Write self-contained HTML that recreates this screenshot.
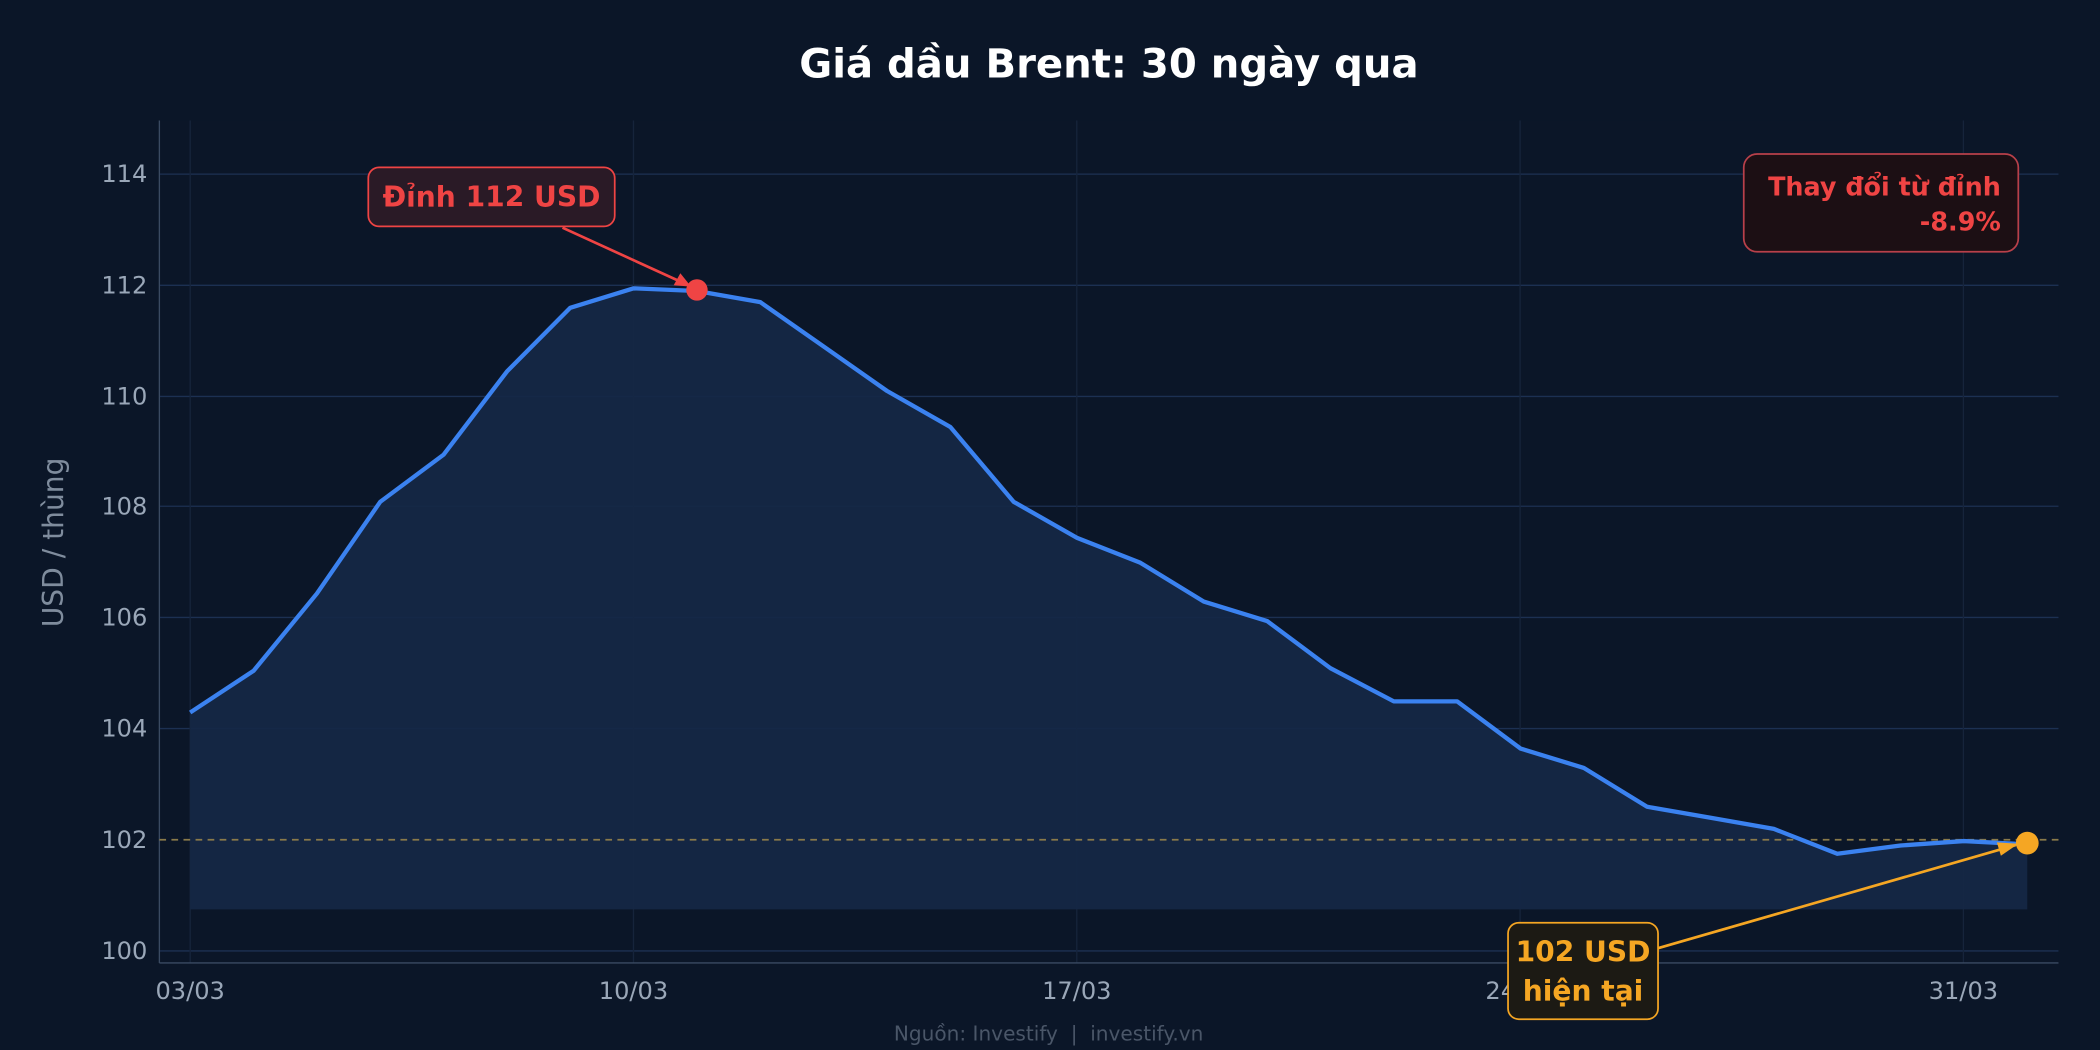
<!DOCTYPE html>
<html><head><meta charset="utf-8"><style>
html,body{margin:0;padding:0;background:#0b1628;}
svg{display:block;font-family:"DejaVu Sans","Liberation Sans",sans-serif;}
</style></head><body>
<svg width="2100" height="1050" viewBox="0 0 1568 784" xmlns="http://www.w3.org/2000/svg">
<rect width="1568" height="784" fill="#0b1628"/>
<rect x="119" y="90" width="1418" height="629" fill="#0b1628"/>
<g stroke="#1c3052" stroke-width="1">
<line x1="119" y1="130" x2="1537" y2="130"/><line x1="119" y1="213" x2="1537" y2="213"/>
<line x1="119" y1="296" x2="1537" y2="296"/><line x1="119" y1="378" x2="1537" y2="378"/>
<line x1="119" y1="461" x2="1537" y2="461"/><line x1="119" y1="544" x2="1537" y2="544"/>
<line x1="119" y1="710" x2="1537" y2="710"/>
</g>
<g stroke="#16243b" stroke-width="1">
<line x1="142" y1="90" x2="142" y2="719"/><line x1="473" y1="90" x2="473" y2="719"/>
<line x1="804" y1="90" x2="804" y2="719"/><line x1="1135" y1="90" x2="1135" y2="719"/>
<line x1="1466" y1="90" x2="1466" y2="719"/>
</g>
<g stroke="#3a4a62" stroke-width="1"><line x1="119" y1="90" x2="119" y2="719"/><line x1="119" y1="719" x2="1537" y2="719"/></g>
<polygon fill="#152846" fill-opacity="0.9" points="142,679 142,532 189.3,500.9 236.6,443.2 283.9,374.7 331.2,339.5 378.5,277.4 425.8,229.8 473.1,215.3 520.4,217.3 567.7,225.6 615,258.7 662.3,291.9 709.6,318.8 756.9,374.7 804.2,401.6 851.5,420.2 898.8,449.2 946.1,463.7 993.4,498.9 1040.7,523.7 1088,523.7 1135.3,558.9 1182.6,573.4 1229.9,602.4 1277.2,610.6 1324.5,618.9 1371.8,637.5 1419.1,631.3 1466.4,628 1513.7,630.5 1513.7,679"/>
<line x1="119" y1="627" x2="1537" y2="627" stroke="#8a7a4a" stroke-width="1.3" stroke-dasharray="5,4"/>
<polyline fill="none" stroke="#3b82f0" stroke-width="3.2" stroke-linejoin="round" points="142,532 189.3,500.9 236.6,443.2 283.9,374.7 331.2,339.5 378.5,277.4 425.8,229.8 473.1,215.3 520.4,217.3 567.7,225.6 615,258.7 662.3,291.9 709.6,318.8 756.9,374.7 804.2,401.6 851.5,420.2 898.8,449.2 946.1,463.7 993.4,498.9 1040.7,523.7 1088,523.7 1135.3,558.9 1182.6,573.4 1229.9,602.4 1277.2,610.6 1324.5,618.9 1371.8,637.5 1419.1,631.3 1466.4,628 1513.7,630.5"/>
<circle cx="520.4" cy="216.5" r="8" fill="#ef4444"/>
<circle cx="1513.7" cy="629.5" r="8.5" fill="#f5a623"/>
<g fill="#9aa7b8" font-size="18">
<g text-anchor="end"><text x="110" y="136">114</text><text x="110" y="219">112</text><text x="110" y="302">110</text><text x="110" y="384">108</text><text x="110" y="467">106</text><text x="110" y="550">104</text><text x="110" y="633">102</text><text x="110" y="716">100</text></g>
<g text-anchor="middle"><text x="142" y="746">03/03</text><text x="473" y="746">10/03</text><text x="804" y="746">17/03</text><text x="1135" y="746">24/03</text><text x="1466" y="746">31/03</text></g>
</g>
<text x="47" y="405" fill="#7f8c9d" font-size="21" text-anchor="middle" transform="rotate(-90 47 405)">USD / thùng</text>
<text x="828" y="58" fill="#ffffff" font-size="30" font-weight="bold" text-anchor="middle">Giá dầu Brent: 30 ngày qua</text>
<line x1="420" y1="170" x2="514" y2="213" stroke="#ef4444" stroke-width="2"/>
<polygon points="516,214 503,213 508,204" fill="#ef4444"/>
<rect x="275" y="125" width="184" height="44" rx="8" fill="#2a1a26" stroke="#ef4444" stroke-width="1.3"/>
<text x="367" y="154" fill="#ef4444" font-size="21" font-weight="bold" text-anchor="middle">Đỉnh 112 USD</text>
<line x1="1238" y1="708" x2="1505" y2="631" stroke="#f5a623" stroke-width="2"/>
<polygon points="1507,630 1494,639 1491,629" fill="#f5a623"/>
<rect x="1126" y="689" width="112" height="72" rx="8" fill="#1c1a14" stroke="#f5a623" stroke-width="1.3"/>
<text x="1182" y="718" fill="#f5a623" font-size="21" font-weight="bold" text-anchor="middle">102 USD</text>
<text x="1182" y="747" fill="#f5a623" font-size="21" font-weight="bold" text-anchor="middle">hiện tại</text>
<rect x="1302" y="115" width="205" height="73" rx="10" fill="#1c0f14" stroke="#b8404a" stroke-width="1.3"/>
<text x="1494" y="146" fill="#ef4444" font-size="19" font-weight="bold" text-anchor="end">Thay đổi từ đỉnh</text>
<text x="1494" y="172" fill="#ef4444" font-size="19" font-weight="bold" text-anchor="end">-8.9%</text>
<text x="783" y="777" fill="#4a5668" font-size="15" text-anchor="middle" xml:space="preserve" style="white-space:pre">Nguồn: Investify  |  investify.vn</text>
</svg>
</body></html>
